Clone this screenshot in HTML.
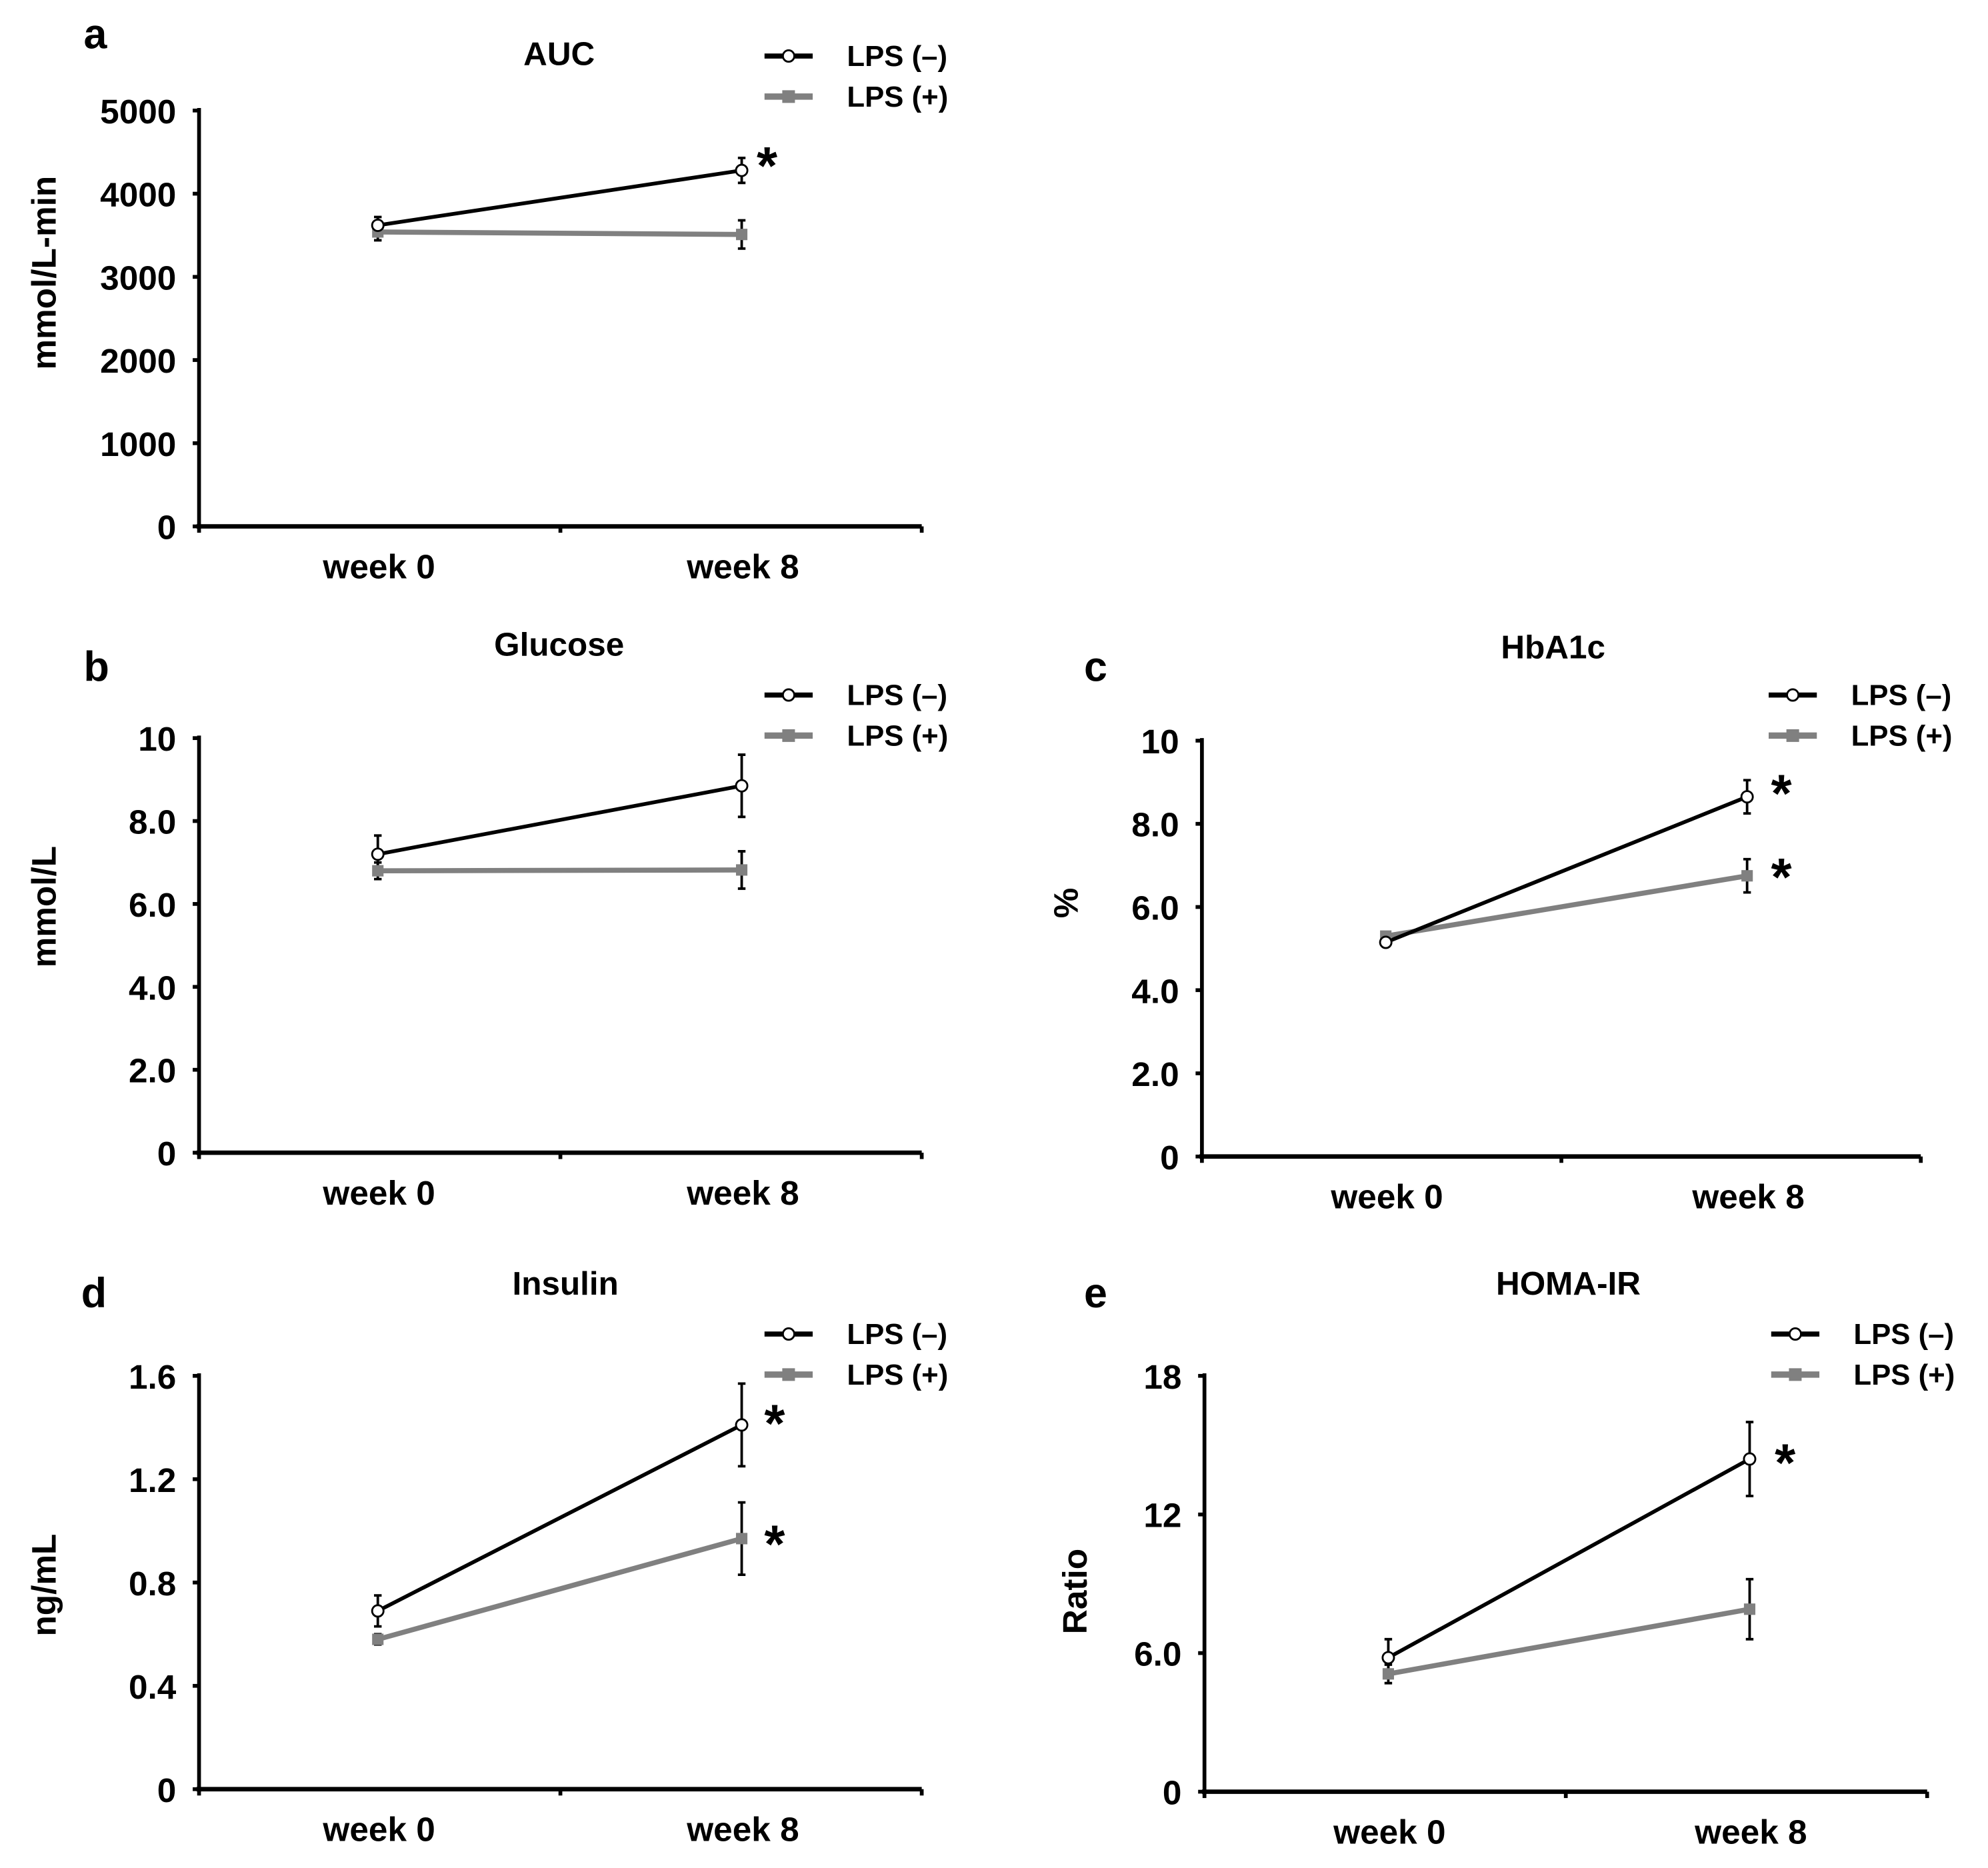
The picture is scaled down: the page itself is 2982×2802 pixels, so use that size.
<!DOCTYPE html>
<html><head><meta charset="utf-8"><style>
html,body{margin:0;padding:0;background:#fff}
svg{display:block}
text{font-family:"Liberation Sans",Arial,sans-serif;font-weight:bold;fill:#000}
</style></head><body>
<svg id="fig" width="2982" height="2802" viewBox="0 0 1568 1473" xmlns="http://www.w3.org/2000/svg"></svg>
<script>
const categories = ["week 0", "week 8"];
const aucNeg = [3620, 4280], aucNegErr = [100, 150];
const aucPos = [3540, 3510], aucPosErr = [100, 170];
const aucTicks = ["0","1000","2000","3000","4000","5000"];
const gluNeg = [7.2, 8.85], gluNegErr = [0.45, 0.75];
const gluPos = [6.8, 6.82], gluPosErr = [0.2, 0.45];
const gluTicks = ["0","2.0","4.0","6.0","8.0","10"];
const hbaNeg = [5.15, 8.65], hbaNegErr = [0.1, 0.4];
const hbaPos = [5.3, 6.75], hbaPosErr = [0.1, 0.4];
const hbaTicks = ["0","2.0","4.0","6.0","8.0","10"];
const insNeg = [0.69, 1.41], insNegErr = [0.06, 0.16];
const insPos = [0.58, 0.97], insPosErr = [0.02, 0.14];
const insTicks = ["0","0.4","0.8","1.2","1.6"];
const homNeg = [5.8, 14.4], homNegErr = [0.8, 1.6];
const homPos = [5.1, 7.9], homPosErr = [0.4, 1.3];
const homTicks = ["0","6.0","12","18"];

const NS = "http://www.w3.org/2000/svg";
const svg = document.getElementById("fig");
function mk(tag, attrs, parent, txt) {
  const e = document.createElementNS(NS, tag);
  for (const k in attrs) e.setAttribute(k, attrs[k]);
  if (txt !== undefined) e.textContent = txt;
  (parent || svg).appendChild(e);
  return e;
}

function panel(p) {
  const g = mk("g", {});
  
  
  const ymax = parseFloat(p.ticks[p.ticks.length - 1]);
  const y = v => p.y0 - (v / ymax) * (p.y0 - p.yTop);
  const x = i => p.px[i];
  const lt = mk("text", {x: p.lx, y: p.ly, "font-size": 33}, g, p.letter);
  
  
  const ti = mk("text", {x: p.tx, y: p.ty, "font-size": 26, "text-anchor": "middle"}, g, p.title);
  
  
  const ya = mk("line", {x1: p.ax, y1: p.yTop - 2, x2: p.ax, y2: p.y0 + 2, stroke: "#000", "stroke-width": 3}, g);
  
  
  const xa = mk("line", {x1: p.ax - 2, y1: p.y0, x2: p.xEnd, y2: p.y0, stroke: "#000", "stroke-width": 3.5}, g);
  
  
  [p.ax, (p.ax + p.xEnd) / 2, p.xEnd].forEach(tx => {
    const t = mk("line", {x1: tx, y1: p.y0, x2: tx, y2: p.y0 + 5, stroke: "#000", "stroke-width": 3}, g);
    
    
  });
  p.ticks.forEach(tl => {
    const v = parseFloat(tl);
    const tk = mk("line", {x1: p.ax - 5, y1: y(v), x2: p.ax, y2: y(v), stroke: "#000", "stroke-width": 3}, g);
    
    
    const t = mk("text", {x: p.ax - 18, y: y(v) + 10, "font-size": 27, "text-anchor": "end"}, g, tl);
    
    
  });
  categories.forEach((c, i) => {
    const t = mk("text", {x: x(i) + 1, y: p.y0 + 41, "font-size": 27, "text-anchor": "middle"}, g, c);
    
    
  });
  const yl = mk("text", {x: 0, y: 0, "font-size": 27, "text-anchor": "middle", transform: `translate(${p.ylx},${p.yly}) rotate(-90)`}, g, p.ylabel);
  
  
  const series = [
    {v: p.pos, e: p.posErr, c: "#808080", w: 4, name: "lps-plus"},
    {v: p.neg, e: p.negErr, c: "#000", w: 3, name: "lps-minus"}
  ];
  series.forEach(s => {
    const ln = mk("line", {x1: x(0), y1: y(s.v[0]), x2: x(1), y2: y(s.v[1]), stroke: s.c, "stroke-width": s.w}, g);
    
    
  });
  series.forEach(s => {
    s.v.forEach((v, i) => {
      const eb = mk("path", {d: `M${x(i)},${y(v - s.e[i])}V${y(v + s.e[i])}M${x(i)-3},${y(v - s.e[i])}h6M${x(i)-3},${y(v + s.e[i])}h6`, stroke: "#000", "stroke-width": 2, fill: "none"}, g);
      
      
    });
  });
  series.forEach(s => {
    s.v.forEach((v, i) => {
      let m;
      if (s.name === "lps-plus") m = mk("rect", {x: x(i) - 4.5, y: y(v) - 4.5, width: 9, height: 9, fill: "#808080"}, g);
      else m = mk("circle", {cx: x(i), cy: y(v), r: 4.5, fill: "#fff", stroke: "#000", "stroke-width": 1.5}, g);
      
      
    });
  });
  p.stars.forEach(st => {
    const t = mk("text", {x: st[0], y: st[1], "font-size": 42, "text-anchor": "middle"}, g, "*");
    
    
  });
  const lg = mk("g", {}, g);
  
  
  const l1 = mk("line", {x1: p.legX, y1: p.legY, x2: p.legX + 38, y2: p.legY, stroke: "#000", "stroke-width": 4}, lg);
  
  
  mk("circle", {cx: p.legX + 19, cy: p.legY, r: 4.5, fill: "#fff", stroke: "#000", "stroke-width": 1.5}, lg);
  const t1 = mk("text", {x: p.legX + 65, y: p.legY + 8, "font-size": 23}, lg, "LPS (\u2013)");
  
  
  const l2 = mk("line", {x1: p.legX, y1: p.legY + 32, x2: p.legX + 38, y2: p.legY + 32, stroke: "#808080", "stroke-width": 5}, lg);
  
  
  mk("rect", {x: p.legX + 14, y: p.legY + 27, width: 10, height: 10, fill: "#808080"}, lg);
  const t2 = mk("text", {x: p.legX + 65, y: p.legY + 40, "font-size": 23}, lg, "LPS (+)");
  
  
}

panel({letter:"a", lx:66, ly:38, title:"AUC", tx:441, ty:51, ax:157, yTop:87, y0:415, xEnd:727, px:[298,585],
  ticks:aucTicks, neg:aucNeg, negErr:aucNegErr, pos:aucPos, posErr:aucPosErr, ylabel:"mmol/L-min", ylx:44, yly:215,
  stars:[[605,145]], legX:603, legY:44});
panel({letter:"b", lx:66, ly:537, title:"Glucose", tx:441, ty:517, ax:157, yTop:582, y0:909, xEnd:727, px:[298,585],
  ticks:gluTicks, neg:gluNeg, negErr:gluNegErr, pos:gluPos, posErr:gluPosErr, ylabel:"mmol/L", ylx:44, yly:715,
  stars:[], legX:603, legY:548});
panel({letter:"c", lx:855, ly:537, title:"HbA1c", tx:1225, ty:519, ax:948, yTop:584, y0:912, xEnd:1515, px:[1093,1378],
  ticks:hbaTicks, neg:hbaNeg, negErr:hbaNegErr, pos:hbaPos, posErr:hbaPosErr, ylabel:"%", ylx:850, yly:712,
  stars:[[1405,640],[1405,706]], legX:1395, legY:548});
panel({letter:"d", lx:64, ly:1031, title:"Insulin", tx:446, ty:1021, ax:157, yTop:1085, y0:1411, xEnd:727, px:[298,585],
  ticks:insTicks, neg:insNeg, negErr:insNegErr, pos:insPos, posErr:insPosErr, ylabel:"ng/mL", ylx:44, yly:1250,
  stars:[[611,1137],[611,1232]], legX:603, legY:1052});
panel({letter:"e", lx:855, ly:1031, title:"HOMA-IR", tx:1237, ty:1021, ax:950, yTop:1085, y0:1413, xEnd:1520, px:[1095,1380],
  ticks:homTicks, neg:homNeg, negErr:homNegErr, pos:homPos, posErr:homPosErr, ylabel:"Ratio", ylx:857, yly:1255,
  stars:[[1408,1168]], legX:1397, legY:1052});
</script>
</body></html>
